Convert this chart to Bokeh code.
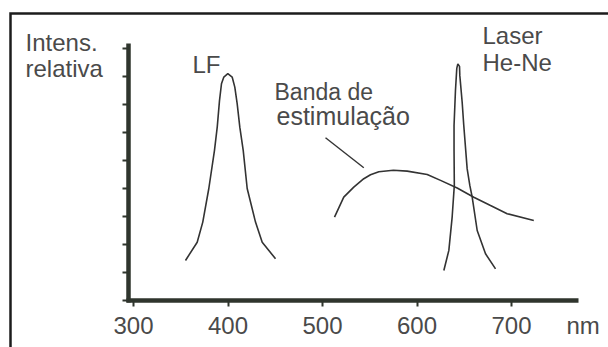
from bokeh.plotting import figure
from bokeh.models import Label, FixedTicker, Range1d
from bokeh.embed import file_html
from bokeh.resources import INLINE

W, H = 608, 347

# ---- data (wavelength in nm, relative intensity in tick units) ----
lf_nm = [355.0, 367.4, 373.3, 379.7, 385.7, 388.6, 391.0, 393.1, 395.6,
         399.8, 404.4, 407.2, 409.7, 412.5, 416.1, 420.3, 429.1, 436.2, 450.3]
lf_int = [1.43, 2.08, 2.80, 4.00, 5.36, 6.19, 7.14, 7.74, 7.98,
          8.10, 7.98, 7.62, 7.03, 6.19, 5.36, 4.00, 2.80, 2.08, 1.49]

band_nm = [512.7, 522.5, 533.1, 543.7, 550.8, 559.6, 575.0, 589.6, 610.8, 624.9,
           642.5, 660.1, 677.8, 695.4, 723.6]
band_int = [2.98, 3.69, 4.05, 4.35, 4.49, 4.60, 4.65, 4.62, 4.50, 4.29,
            4.02, 3.69, 3.39, 3.10, 2.86]

laser_nm = [628.4, 633.7, 637.2, 639.5, 639.2, 639.2, 640.7, 642.1, 643.2,
            645.0, 645.3, 647.8, 649.5, 653.1, 655.9, 658.4, 663.7, 672.5, 683.1]
laser_int = [1.07, 1.79, 2.98, 4.11, 5.36, 6.25, 7.50, 8.29, 8.45,
             8.36, 8.04, 7.08, 6.25, 4.70, 4.11, 3.69, 2.50, 1.67, 1.13]

pointer_nm = [503.2, 543.7]
pointer_int = [5.81, 4.74]

x_ticks = [300, 400, 500, 600, 700]
x_tick_labels = ["300", "400", "500", "600", "700"]
y_ticks = [0, 1, 2, 3, 4, 5, 6, 7, 8, 9]

# ---- pixel <-> data mapping used for layout ----
X0_PX, X0, PX_PER_NM = 133.0, 300.0, 0.945
Y0_PX, PX_PER_UNIT = 300.0, 28.0


def xd(px):
    return X0 + (px - X0_PX) / PX_PER_NM


def yd(py):
    return (Y0_PX - py) / PX_PER_UNIT


FONT = "Liberation Sans"
TXT = "#4a4a4a"
AX = "#2f352d"
CURVE = "#333333"

p = figure(width=W, height=H, x_range=Range1d(xd(0), xd(W)),
           y_range=Range1d(yd(H), yd(0)), output_backend="svg",
           toolbar_location=None, title=None, min_border=0)
p.outline_line_color = None
p.grid.visible = False
p.background_fill_color = "white"
p.border_fill_color = "white"

# axes
xa = p.xaxis[0]
xa.fixed_location = 0
xa.bounds = (xd(126), xd(578))
xa.ticker = FixedTicker(ticks=x_ticks)
xa.major_label_overrides = {t: l for t, l in zip(x_ticks, x_tick_labels)}
xa.minor_tick_line_color = None
xa.axis_line_width = 4.5
xa.axis_line_color = AX
xa.major_tick_line_color = AX
xa.major_tick_line_width = 2
xa.major_tick_in = 0
xa.major_tick_out = 6
xa.major_label_standoff = 10
xa.major_label_text_font = FONT
xa.major_label_text_font_size = "24px"
xa.major_label_text_color = TXT

ya = p.yaxis[0]
ya.fixed_location = xd(128)
ya.bounds = (yd(302), yd(43))
ya.ticker = FixedTicker(ticks=y_ticks)
ya.major_label_overrides = {t: "" for t in y_ticks}
ya.minor_tick_line_color = None
ya.axis_line_width = 4.5
ya.axis_line_color = AX
ya.major_tick_line_color = AX
ya.major_tick_line_width = 2
ya.major_tick_in = 0
ya.major_tick_out = 6

# outer frame (top and left edges of the picture box)
p.line([xd(10), xd(10), xd(W + 5)], [yd(H + 5), yd(13), yd(13)],
       line_width=2.5, line_color="#1c1c1c", line_join="miter")

# curves
p.line(lf_nm, lf_int, line_width=1.6, line_color=CURVE)
p.line(band_nm, band_int, line_width=1.6, line_color=CURVE)
p.line(laser_nm, laser_int, line_width=1.6, line_color=CURVE)
p.line(pointer_nm, pointer_int, line_width=1.4, line_color=CURVE)

# texts (py = wanted baseline in pixels; Bokeh label draws ~8px lower)
SHIFT = 8


def lab(px, py, text, size=24):
    p.add_layout(Label(x=xd(px), y=yd(py - SHIFT), text=text, text_font=FONT,
                       text_font_size=f"{size}px", text_color=TXT,
                       text_baseline="alphabetic", text_align="left"))


lab(25, 50, "Intens.")
lab(25, 76, "relativa")
lab(192, 72, "LF")
lab(274, 99, "Banda de", 23)
lab(276, 123, "estimulação", 25)
lab(482, 43, "Laser")
lab(482, 70, "He-Ne")
lab(566, 333, "nm")

open("out.html", "w").write(file_html(p, INLINE))
